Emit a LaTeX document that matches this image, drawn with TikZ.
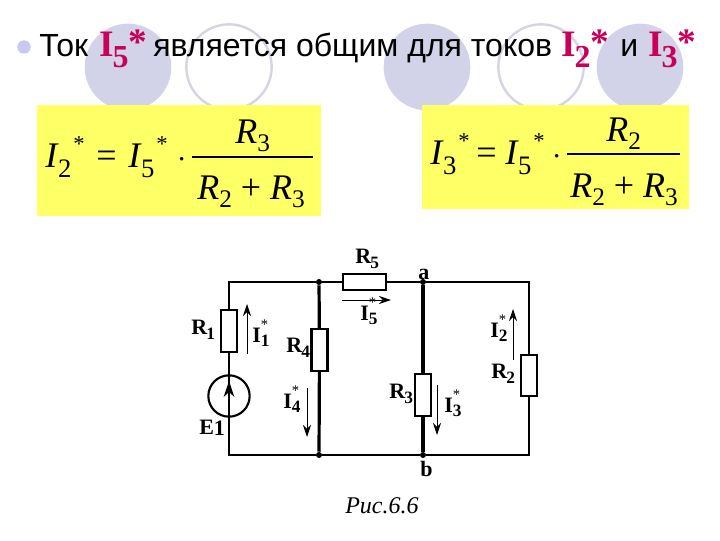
\documentclass[tikz,border=0pt]{standalone}
\usepackage{fontspec}
\setmainfont{Liberation Serif}
\newfontfamily\headfont{Liberation Sans}
\usetikzlibrary{positioning,arrows.meta}
\definecolor{lavender}{HTML}{D2D2E8}
\definecolor{ringgrey}{HTML}{D4D4E2}
\definecolor{bulletblue}{HTML}{C8C8F0}
\definecolor{crimson}{HTML}{C8005A}
\definecolor{sheet}{HTML}{FFFF66}
\newcommand{\headtext}{\headfont\fontsize{24}{26}\selectfont}
\newcommand{\headcur}[1]{\fontsize{28}{30}\selectfont\bfseries\textcolor{crimson}{I\raisebox{-0.3em}{\kern-0.03em\fontsize{24}{24}\selectfont #1}\raisebox{0.03em}{*}}}
\newcommand{\formcur}[1]{\textit{I}\raisebox{-0.28em}{\fontsize{20}{20}\selectfont\kern-0.02em #1}\raisebox{0.42em}{\fontsize{17}{17}\selectfont\kern0.08em *}}
\newcommand{\formres}[1]{\textit{R}\raisebox{-0.24em}{\fontsize{19}{19}\selectfont #1}}
\newcommand{\labres}[1]{\bfseries R\raisebox{-0.25em}{\kern-0.04em\fontsize{13}{13}\selectfont #1}}
\newcommand{\labcur}[1]{\bfseries I\raisebox{-0.2em}{\rlap{\fontsize{13}{13}\selectfont #1}}\raisebox{0.55em}{\fontsize{11}{11}\selectfont\mdseries *}}

\begin{document}
\begin{tikzpicture}[x=0.75pt,y=-0.75pt,
  wire/.style={line width=1.5pt},
  busbar/.style={line width=2.4pt},
  vres/.style={draw,line width=1.6pt,fill=white,minimum width=12pt,minimum height=31pt,inner sep=0pt},
  hres/.style={draw,line width=1.6pt,fill=white,minimum width=32pt,minimum height=12pt,inner sep=0pt},
  joint/.style={circle,fill=black,minimum size=4.5pt,inner sep=0pt},
  flow/.style={line width=0.7pt,-{Stealth[length=9pt,width=6pt]}},
  lab/.style={font=\fontsize{16.5}{18}\selectfont,inner sep=0pt},
  form/.style={font=\fontsize{27}{28}\selectfont,inner sep=0pt,anchor=base west},
  disc/.style={circle,fill=lavender,minimum size=65pt,inner sep=0pt},
  ring/.style={circle,draw=ringgrey,line width=1.8pt,minimum size=64pt,inner sep=0pt},
  head/.style={inner sep=0pt,anchor=base west}]
\useasboundingbox (0,0) rectangle (720,540);

\node[disc] (discA) at (128,67) {};
\node[ring] (ringA) at (229,67) {};
\node[disc] (discB) at (427,67) {};
\node[ring] (ringB) at (541,67) {};
\node[disc] (discC) at (640,67) {};
\node[circle,fill=bulletblue,minimum size=10pt,inner sep=0pt] (bullet) at (24,47) {};

\node[head,font=\headtext] (tok) at (39,56) {Ток};
\node[head] (headI5) at (99,56) {\headcur{5}};
\node[head,font=\headtext] (body) at (153,56) {является общим для токов};
\node[head] (headI2) at (561,56) {\headcur{2}};
\node[head,font=\headtext] (and) at (620,56) {и};
\node[head] (headI3) at (648,56) {\headcur{3}};

\fill[sheet] (37,105) rectangle (321,216);
\fill[sheet] (422,105) rectangle (689,209);

\node[form] (lhsA) at (45,167) {\formcur{2}};
\node[form] (eqA) at (96,167) {=};
\node[form] (midA) at (128,167) {\formcur{5}};
\node[form] (dotA) at (177,167) {$\cdot$};
\node[form] (numA) at (235,143) {\formres{3}};
\node[form] (denA) at (197,199) {\formres{2} + \formres{3}};
\coordinate (barAl) at (192,157);
\coordinate (barAr) at (313,157);
\draw[line width=0.8pt] (barAl) -- (barAr);

\node[form] (lhsB) at (430,164) {\formcur{3}};
\node[form] (eqB) at (476,164) {=};
\node[form] (midB) at (505,164) {\formcur{5}};
\node[form] (dotB) at (552,164) {$\cdot$};
\node[form] (numB) at (606,141) {\formres{2}};
\node[form] (denB) at (570,197) {\formres{2} + \formres{3}};
\coordinate (barBl) at (567,154);
\coordinate (barBr) at (680,154);
\draw[line width=1pt] (barBl) -- (barBr);

\coordinate (TL) at (229,282);
\coordinate (BL) at (229,455);
\coordinate (TR) at (529,282);
\coordinate (BR) at (529,455);
\node[joint] (top4) at (319,282) {};
\node[joint] (bot4) at (319,455) {};
\node[joint] (a) at (423,282) {};
\node[joint] (b) at (423,455) {};
\node[vres] (R1) at (229,331) {};
\node[vres] (R4) at (319.5,350) {};
\node[hres] (R5) at (364.5,282) {};
\node[vres] (R3) at (423,395) {};
\node[vres] (R2) at (529,375.5) {};
\node[circle,draw,line width=1.6pt,minimum size=31pt,inner sep=0pt] (E1) at (229,396) {};

\draw[wire] (R1) -- (TL) -- (top4) -- (R5) -- (a) -- (TR) -- (R2) -- (BR) -- (b) -- (bot4) -- (BL) -- (R1);
\draw[busbar] (top4) -- (R4) -- (bot4);
\draw[busbar] (a) -- (R3) -- (b);

\coordinate (Etip) at (229,381);
\draw[line width=1pt,-{Stealth[length=12pt,width=8pt]}] (E1.center) -- (Etip);

\coordinate (i1s) at (247,354);
\coordinate (i1e) at (247,304);
\coordinate (i4s) at (307,388);
\coordinate (i4e) at (307,437);
\coordinate (i5s) at (342,300);
\coordinate (i5e) at (391,300);
\coordinate (i2s) at (513,360);
\coordinate (i2e) at (513,309);
\coordinate (i3s) at (437,385);
\coordinate (i3e) at (437,435);
\draw[flow] (i1s) -- (i1e);
\draw[flow] (i4s) -- (i4e);
\draw[flow] (i5s) -- (i5e);
\draw[flow] (i2s) -- (i2e);
\draw[flow] (i3s) -- (i3e);

\node[lab,anchor=base west] (labR1) at (191,334) {\labres{1}};
\node[lab,anchor=base west] (labI1) at (252,342) {\labcur{1}};
\node[lab,anchor=base west] (labR4) at (286,352) {\labres{4}};
\node[lab,anchor=base west] (labE1) at (199,434) {\bfseries E\raisebox{-0.05em}{1}};
\node[lab,anchor=base west] (labI4) at (283,408) {\labcur{4}};
\node[lab,anchor=base west] (labR5) at (355,263) {\labres{5}};
\node[lab,anchor=base west] (labI5) at (360,320) {\labcur{5}};
\node[lab,anchor=base west] (laba) at (418,279) {\bfseries a};
\node[lab,anchor=base west] (labb) at (420,476) {\bfseries b};
\node[lab,anchor=base west] (labR3) at (389,398) {\labres{3}};
\node[lab,anchor=base west] (labI3) at (444,412) {\labcur{3}};
\node[lab,anchor=base west] (labI2) at (490,337) {\labcur{2}};
\node[lab,anchor=base west] (labR2) at (491,378) {\labres{2}};
\node[inner sep=0pt,anchor=base west,font=\fontsize{18}{20}\selectfont\itshape] (caption) at (345,513) {Рис.6.6};
\end{tikzpicture}
\end{document}
